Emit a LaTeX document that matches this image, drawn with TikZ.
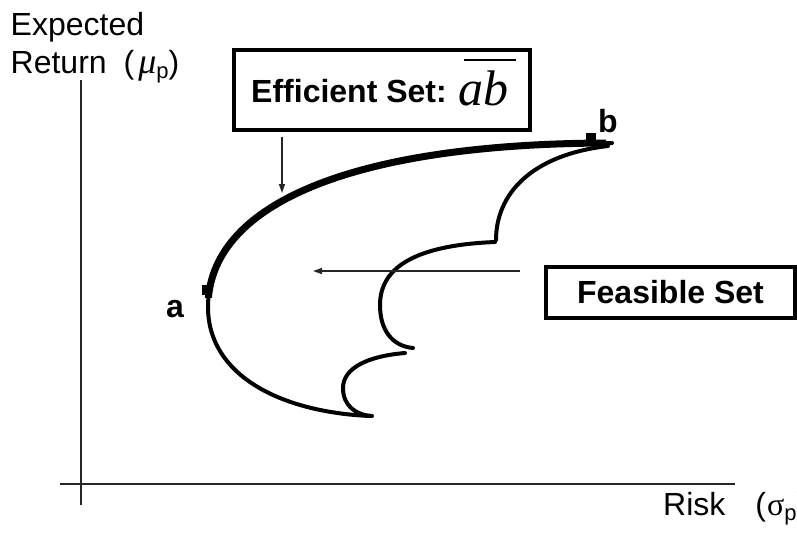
\documentclass[tikz,border=0pt]{standalone}
\usepackage{fontspec}
\setmainfont{Liberation Sans}
\newfontfamily\timesfont{Liberation Serif}
\usetikzlibrary{arrows.meta}
\tikzset{
  axisline/.style={line width=1.8pt, draw=black!85},
  thinarrow/.style={line width=1.4pt, draw=black!85, -{Triangle[length=9pt,width=6pt]}},
  boxnode/.style={draw=black, line width=4.5pt, fill=white, inner sep=0pt},
  curvethin/.style={line width=4pt, line cap=round, line join=round},
  curvethick/.style={line width=7pt, line cap=round, line join=round},
  lbl/.style={inner sep=0pt, font=\fontsize{32}{36}\selectfont},
  blbl/.style={inner sep=0pt, font=\fontsize{32}{36}\selectfont\bfseries},
  marker/.style={fill=black, inner sep=0pt, minimum size=10pt},
}
\begin{document}
\begin{tikzpicture}[x=1pt,y=-1pt]
\useasboundingbox (0,0) rectangle (797,542);
\clip (0,0) rectangle (797,542);
% axes
\coordinate (ytop) at (81,80);
\coordinate (ybot) at (81,505);
\coordinate (xleft) at (60,484);
\coordinate (xright) at (735,484);
\draw[axisline] (ytop) -- (ybot);
\draw[axisline] (xleft) -- (xright);
% axis labels
\node[lbl, anchor=base west] (ylabA) at (10.5,35) {Expected};
\node[lbl, anchor=base west] (ylabB) at (10.5,73) {Return\hspace{8pt} (\hspace{4pt}{\fontsize{36}{36}\selectfont\timesfont\itshape μ}\raisebox{-5pt}{\fontsize{22}{22}\selectfont p})};
\node[lbl, anchor=base west] (xlab) at (663,515) {Risk\hspace{30pt}(\hspace{1pt}{\fontsize{32}{32}\selectfont\timesfont σ}\raisebox{-5pt}{\fontsize{22}{22}\selectfont p})};
% outer boundary of feasible set
\coordinate (outerBot) at (370,416);
\coordinate (outerLeft) at (208,307);
\coordinate (outerTip) at (612,143);
\draw[curvethin] (outerBot) .. controls (280,412) and (208,375) .. (outerLeft)
  .. controls (208,205) and (350,143) .. (outerTip);
% efficient frontier (thick) from a to b
\begin{scope}
\clip (0,0) rectangle (606,297);
\draw[curvethick] (outerLeft) .. controls (208,205) and (350,143) .. (outerTip);
\end{scope}
% inner scallops
\draw[curvethin] (608,146) .. controls (530,155) and (496,195) .. (496,240);
\draw[curvethin] (495,242) .. controls (420,245) and (380,265) .. (380,305) .. controls (380,330) and (392,346) .. (413,348);
\draw[curvethin] (405,353) .. controls (368,356) and (343,368) .. (343,388) .. controls (343,405) and (355,415) .. (372,416);
% points a and b
\node[marker] (ptA) at (207,290) {};
\node[marker] (ptB) at (590.5,138) {};
\node[blbl, anchor=base] (labA) at (175,317) {a};
\node[blbl, anchor=base] (labB) at (608,132) {b};
% efficient set box
\node[boxnode, minimum width=296pt, minimum height=80pt] (eff) at (382,90) {};
\node[blbl, anchor=base west] (effText) at (251,102) {Efficient Set: \raisebox{-3pt}{\makebox[0pt][l]{\hspace{5pt}\rule[44pt]{52pt}{1.8pt}}{\fontsize{50}{50}\selectfont\normalfont\timesfont\itshape ab}}};
\coordinate (effArrowStart) at (282,137);
\coordinate (effArrowEnd) at (282,193);
\draw[thinarrow] (effArrowStart) -- (effArrowEnd);
% feasible set box
\node[boxnode, minimum width=249pt, minimum height=51pt, blbl] (feas) at (670.5,292.5) {Feasible Set};
\coordinate (feasArrowStart) at (520,271);
\coordinate (feasArrowEnd) at (313,271);
\draw[thinarrow] (feasArrowStart) -- (feasArrowEnd);
\end{tikzpicture}
\end{document}
